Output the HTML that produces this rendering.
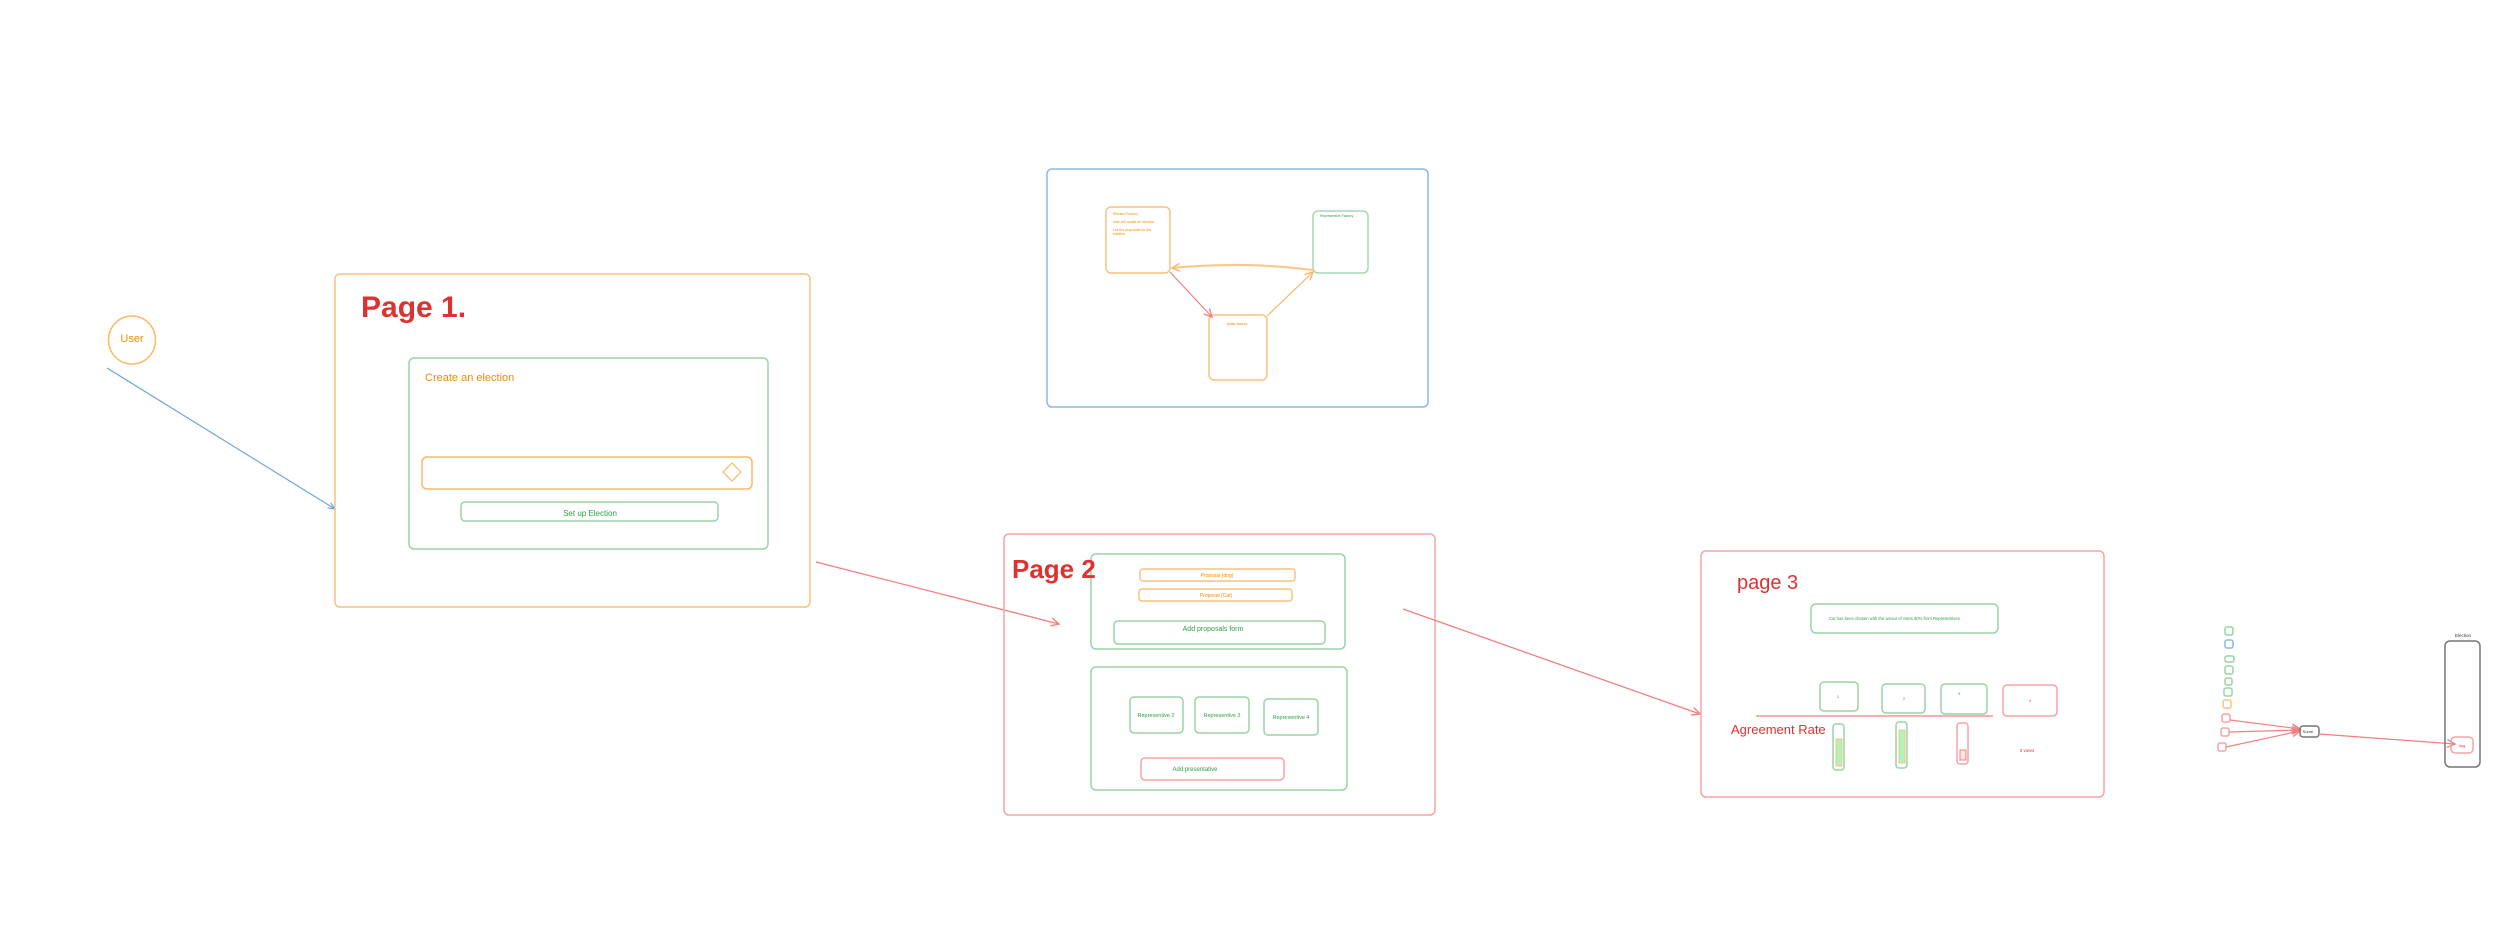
<!DOCTYPE html>
<html><head><meta charset="utf-8"><style>
html,body{margin:0;padding:0;background:#fff;width:2498px;height:938px;overflow:hidden}
svg{display:block}
text{font-family:"Liberation Sans",sans-serif}
</style></head><body>
<svg width="2498" height="938" viewBox="0 0 2498 938" xmlns="http://www.w3.org/2000/svg">
<defs>
<marker id="ab" markerWidth="8" markerHeight="8" refX="7" refY="4" orient="auto" markerUnits="userSpaceOnUse"><path d="M0,1 L7,4 L0,7" fill="none" stroke="#6ea6de" stroke-width="1.2"/></marker>
<marker id="ar" markerWidth="10" markerHeight="10" refX="8" refY="5" orient="auto" markerUnits="userSpaceOnUse"><path d="M0,1 L8,5 L0,9" fill="none" stroke="#f08080" stroke-width="1.4"/></marker>
<marker id="ao" markerWidth="10" markerHeight="10" refX="8" refY="5" orient="auto" markerUnits="userSpaceOnUse"><path d="M0,1 L8,5 L0,9" fill="none" stroke="#fbb868" stroke-width="1.4"/></marker>
</defs>
<g fill="none" stroke-width="1.5">
<ellipse cx="132" cy="340" rx="23.5" ry="24" stroke="#fbb868"/>
<line x1="107" y1="368" x2="335" y2="509" stroke="#6ea6de" stroke-width="1.2" marker-end="url(#ab)"/>
<rect x="335" y="274" width="475" height="333" rx="5" stroke="#fbc17f"/>
<rect x="409" y="358" width="359" height="191" rx="5" stroke="#98d4a6"/>
<rect x="422" y="457" width="330" height="32" rx="5" stroke="#fbb868"/>
<path d="M732,463 L741,472 L732,481 L723,472 Z" stroke="#fbb868" stroke-width="1.2"/>
<rect x="461" y="502" width="257" height="19" rx="4" stroke="#98d4a6"/>
<line x1="816" y1="562" x2="1059" y2="624" stroke="#f08080" stroke-width="1.3" marker-end="url(#ar)"/>
<rect x="1047" y="169" width="381" height="238" rx="5" stroke="#8ab8e6"/>
<rect x="1106" y="207" width="64" height="66" rx="5" stroke="#fbc17f"/>
<rect x="1313" y="211" width="55" height="62" rx="5" stroke="#a6d8b2"/>
<rect x="1209" y="315" width="58" height="65" rx="5" stroke="#fbc17f"/>
<line x1="1170" y1="272" x2="1212" y2="317" stroke="#f08080" stroke-width="1.2" marker-end="url(#ar)"/>
<line x1="1267" y1="316" x2="1313" y2="272" stroke="#fbb868" stroke-width="1.2" marker-end="url(#ao)"/>
<path d="M1313,270 Q1245,261 1172,268" stroke="#fcc88a" stroke-width="2" marker-end="url(#ao)"/>
<rect x="1004" y="534" width="431" height="281" rx="5" stroke="#f5a3a3"/>
<rect x="1091" y="554" width="254" height="95" rx="5" stroke="#98d4a6"/>
<rect x="1140" y="569" width="155" height="12" rx="3" stroke="#fbc17f"/>
<rect x="1139" y="589" width="153" height="12" rx="3" stroke="#fbc17f"/>
<rect x="1114" y="621" width="211" height="23" rx="4" stroke="#98d4a6"/>
<rect x="1091" y="667" width="256" height="123" rx="5" stroke="#98d4a6"/>
<rect x="1130" y="697" width="53" height="36" rx="4" stroke="#98d4a6"/>
<rect x="1195" y="697" width="54" height="36" rx="4" stroke="#98d4a6"/>
<rect x="1264" y="699" width="54" height="36" rx="4" stroke="#98d4a6"/>
<rect x="1141" y="758" width="143" height="22" rx="4" stroke="#f5a3a3"/>
<line x1="1403" y1="609" x2="1700" y2="714" stroke="#f08080" stroke-width="1.3" marker-end="url(#ar)"/>
<rect x="1701" y="551" width="403" height="246" rx="5" stroke="#f5a3a3"/>
<rect x="1811" y="604" width="187" height="29" rx="5" stroke="#98d4a6"/>
<rect x="1820" y="682" width="38" height="29" rx="4" stroke="#98d4a6"/>
<rect x="1882" y="684" width="43" height="29" rx="4" stroke="#98d4a6"/>
<rect x="1941" y="684" width="46" height="30" rx="4" stroke="#98d4a6"/>
<rect x="2003" y="685" width="54" height="31" rx="4" stroke="#f5a3a3"/>
<line x1="1756" y1="716" x2="1993" y2="716" stroke="#f08080" stroke-width="1.3"/>
<rect x="1833" y="724" width="11" height="46" rx="3" stroke="#98d4a6"/>
<rect x="1836" y="739" width="6" height="27" fill="#b2f2bb" stroke="#fbc17f" stroke-width="1"/>
<rect x="1896" y="722" width="11" height="46" rx="3" stroke="#98d4a6"/>
<rect x="1899" y="730" width="6" height="33" fill="#b2f2bb" stroke="#fbc17f" stroke-width="1"/>
<rect x="1957" y="723" width="11" height="41" rx="3" stroke="#f5a3a3"/>
<rect x="1960" y="750" width="6" height="10" fill="#ffe3e3" stroke="#f08080" stroke-width="1"/>
<rect x="2225" y="627" width="8" height="8" rx="2" stroke="#98d4a6"/>
<rect x="2225" y="640" width="8" height="8" rx="2" stroke="#8ab8e6"/>
<rect x="2225" y="656" width="9" height="6" rx="2" stroke="#98d4a6"/>
<rect x="2225" y="666" width="8" height="8" rx="2" stroke="#98d4a6"/>
<rect x="2225" y="678" width="7" height="7" rx="2" stroke="#98d4a6"/>
<rect x="2224" y="688" width="8" height="8" rx="2" stroke="#98d4a6"/>
<rect x="2223" y="700" width="8" height="8" rx="2" stroke="#fbc17f"/>
<rect x="2222" y="714" width="8" height="8" rx="2" stroke="#f5a3a3"/>
<rect x="2221" y="728" width="8" height="8" rx="2" stroke="#f5a3a3"/>
<rect x="2218" y="743" width="8" height="8" rx="2" stroke="#f5a3a3"/>
<line x1="2230" y1="720" x2="2300" y2="729" stroke="#f08080" stroke-width="1.2" marker-end="url(#ar)"/>
<line x1="2229" y1="732" x2="2300" y2="730" stroke="#f08080" stroke-width="1.2" marker-end="url(#ar)"/>
<line x1="2226" y1="747" x2="2300" y2="731" stroke="#f08080" stroke-width="1.2" marker-end="url(#ar)"/>
<rect x="2300" y="726" width="19" height="11" rx="3" stroke="#777"/>
<line x1="2319" y1="734" x2="2455" y2="744" stroke="#f08080" stroke-width="1.2" marker-end="url(#ar)"/>
<rect x="2445" y="641" width="35" height="126" rx="5" stroke="#777"/>
<rect x="2451" y="737" width="22" height="16" rx="4" stroke="#f5a3a3"/>
</g>
<g>
<text x="132" y="339" font-size="11" fill="#f08c00" text-anchor="middle" dominant-baseline="middle">User</text>
<text x="361" y="317" font-size="30" fill="#e03131" font-weight="bold">Page 1.</text>
<text x="425" y="381" font-size="11" fill="#f08c00">Create an election</text>
<text x="590" y="516" font-size="8" fill="#2f9e44" text-anchor="middle">Set up Election</text>
<text x="1113" y="215" font-size="3.5" fill="#f08c00">Election Factory</text>
<text x="1113" y="223" font-size="3.5" fill="#f08c00">user will create an election</text>
<text x="1113" y="231" font-size="3.5" fill="#f08c00">Lsit the proposals for the</text>
<text x="1113" y="235" font-size="3.5" fill="#f08c00">election</text>
<text x="1320" y="217" font-size="3.5" fill="#2f9e44">Representive Factory</text>
<text x="1237" y="325" font-size="3.5" fill="#f08c00" text-anchor="middle">public factory</text>
<text x="1012" y="578" font-size="26" fill="#e03131" font-weight="bold">Page 2</text>
<text x="1217" y="577" font-size="5" fill="#f08c00" text-anchor="middle">Proposal (dog)</text>
<text x="1216" y="597" font-size="5" fill="#f08c00" text-anchor="middle">Proposal (Cat)</text>
<text x="1213" y="631" font-size="7" fill="#2f9e44" text-anchor="middle">Add proposals form</text>
<text x="1156" y="717" font-size="5.5" fill="#2f9e44" text-anchor="middle">Representive 2</text>
<text x="1222" y="717" font-size="5.5" fill="#2f9e44" text-anchor="middle">Representive 3</text>
<text x="1291" y="719" font-size="5.5" fill="#2f9e44" text-anchor="middle">Representive 4</text>
<text x="1195" y="771" font-size="6" fill="#2f9e44" text-anchor="middle">Add presentative</text>
<text x="1737" y="589" font-size="20" fill="#e03131">page 3</text>
<text x="1829" y="620" font-size="4.2" fill="#2f9e44">Cat has been chosen with the amout of votes 60% from  Representives</text>
<text x="1838" y="698" font-size="4" fill="#2f9e44" text-anchor="middle">1</text>
<text x="1904" y="700" font-size="4" fill="#2f9e44" text-anchor="middle">2</text>
<text x="1959" y="695" font-size="4" fill="#2f9e44" text-anchor="middle">3</text>
<text x="2030" y="702" font-size="4" fill="#e03131" text-anchor="middle">4</text>
<text x="1731" y="734" font-size="13" fill="#e03131">Agreement Rate</text>
<text x="2027" y="752" font-size="4.5" fill="#e03131" text-anchor="middle">0 votes</text>
<text x="2309" y="733" font-size="4" fill="#333" text-anchor="middle">Some..</text>
<text x="2463" y="637" font-size="4.5" fill="#333" text-anchor="middle">Election</text>
<text x="2462" y="747" font-size="4" fill="#e03131" text-anchor="middle">dog</text>
</g>
</svg>
</body></html>
